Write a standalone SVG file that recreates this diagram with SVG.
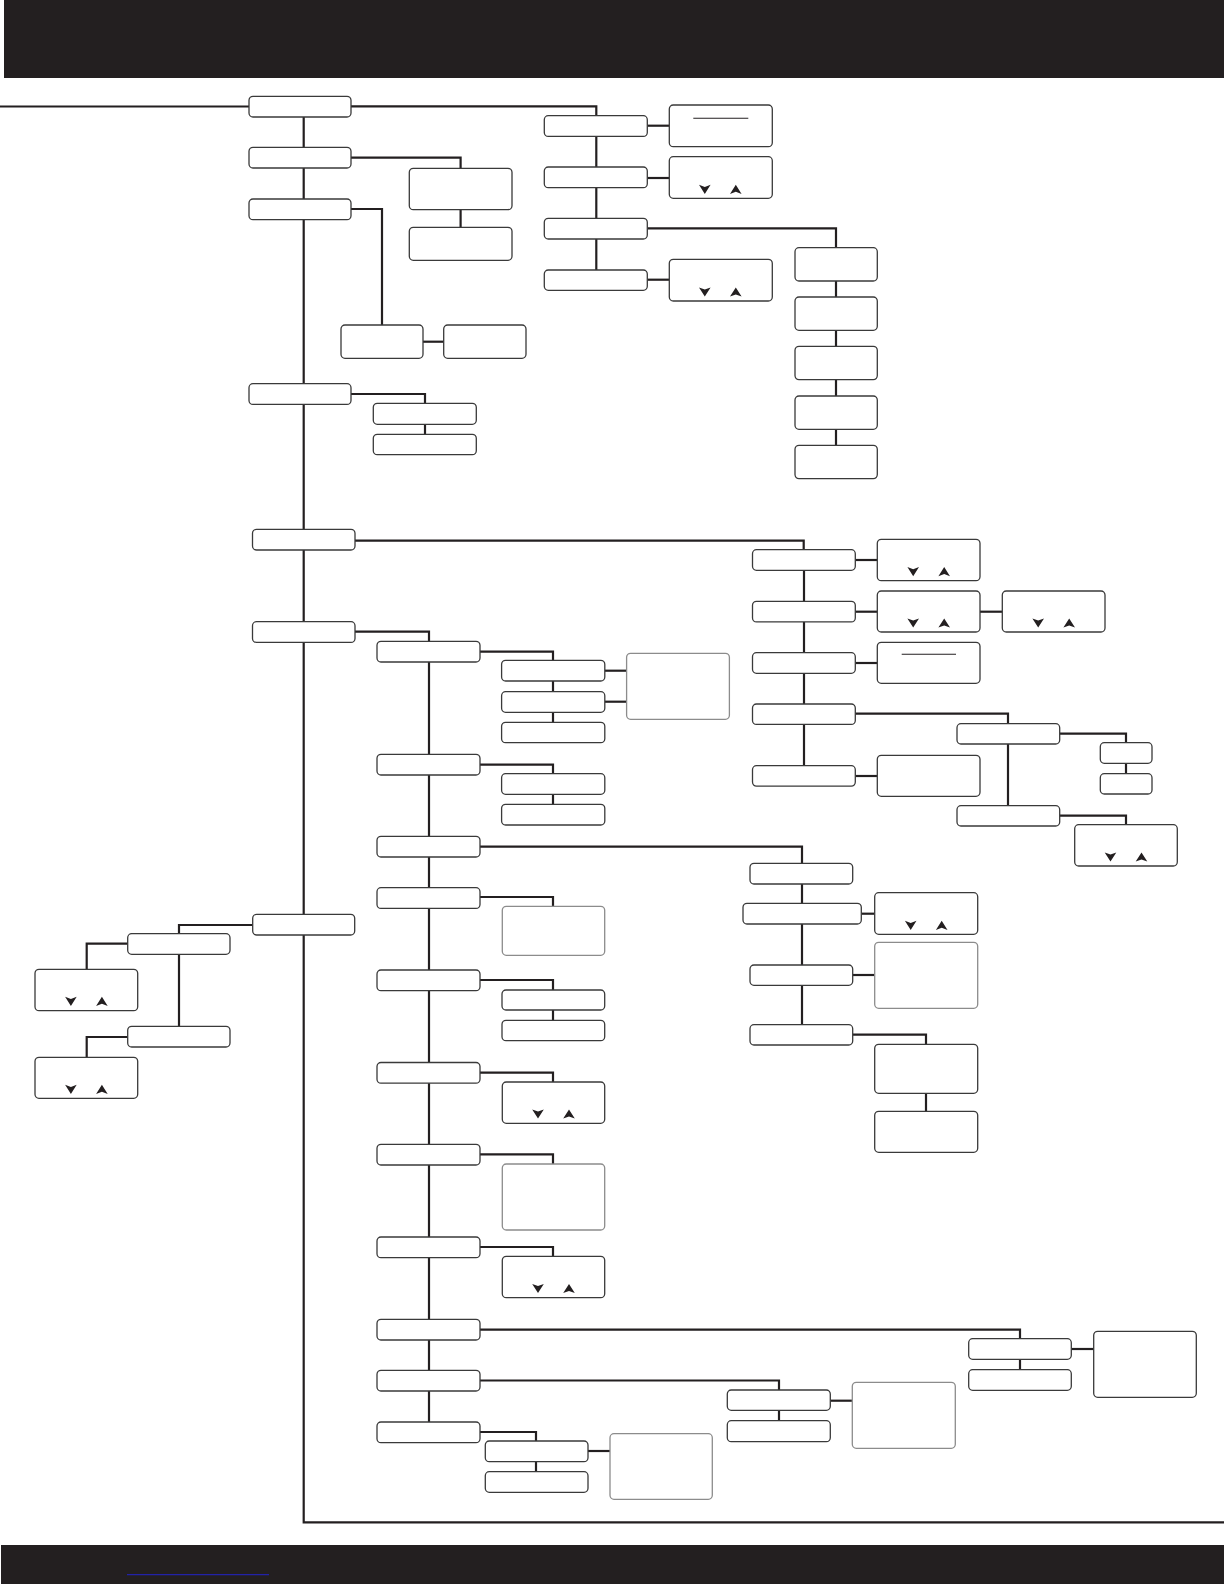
<svg xmlns="http://www.w3.org/2000/svg" xmlns:xlink="http://www.w3.org/1999/xlink" width="1224" height="1584" viewBox="0 0 1224 1584">
<style>
.bar{fill:#231f20}
.n{fill:#fff;stroke:#3a3a3a;stroke-width:1.3}
.nl{fill:#fff;stroke:#8c8c8c;stroke-width:1.3}
.c{fill:none;stroke:#231f20;stroke-width:2.2}
.il{stroke:#231f20;stroke-width:1.1}
.ar{fill:#231f20}
</style>
<defs>
<g id="ud">
<path class="ar" d="M-21.3,-4.6 L-15.5,-2.4 L-9.7,-4.6 L-15.5,4.6 Z"/>
<path class="ar" d="M9.7,4.6 L15.5,2.4 L21.3,4.6 L15.5,-4.6 Z"/>
</g>
</defs>
<rect class="bar" x="4" y="0" width="1220" height="78"/>
<rect class="bar" x="1" y="1545" width="1223" height="39"/>
<line x1="127" y1="1574.7" x2="269" y2="1574.7" stroke="#2222a8" stroke-width="1.2"/>
<g id="connectors">
<path class="c" d="M0 106.5 H249"/>
<path class="c" d="M351 106.3 H596.3 V115.7"/>
<path class="c" d="M303.7 117 V1522.3 H1224"/>
<path class="c" d="M351 157.7 H460.6 V168.3"/>
<path class="c" d="M460.6 209.7 V227.3"/>
<path class="c" d="M351 209 H382 V325"/>
<path class="c" d="M423 341.7 H443.7"/>
<path class="c" d="M351 394 H425 V403.3"/>
<path class="c" d="M425 424.3 V434.3"/>
<path class="c" d="M596.3 136 V270"/>
<path class="c" d="M647.3 125.7 H669.3"/>
<path class="c" d="M647.3 178 H669.3"/>
<path class="c" d="M647.3 228.3 H836 V247.7"/>
<path class="c" d="M647.3 279.7 H669.3"/>
<path class="c" d="M836 281 V445.3"/>
<path class="c" d="M355 540.7 H803.7 V549.7"/>
<path class="c" d="M804 570 V765.7"/>
<path class="c" d="M855.3 560 H877.3"/>
<path class="c" d="M855.3 611.7 H877.3"/>
<path class="c" d="M980 611.7 H1002.3"/>
<path class="c" d="M855.3 663 H877.3"/>
<path class="c" d="M855.3 713.7 H1008 V723.7"/>
<path class="c" d="M1008 744 V805.7"/>
<path class="c" d="M1059.7 733.7 H1126 V742.7"/>
<path class="c" d="M1126 763.3 V773.7"/>
<path class="c" d="M1059.7 815.7 H1126 V824.7"/>
<path class="c" d="M855.3 776 H877.3"/>
<path class="c" d="M355 631.7 H429 V641.3"/>
<path class="c" d="M429 662 V1422"/>
<path class="c" d="M480 651.7 H553 V660.3"/>
<path class="c" d="M553 681 V722.3"/>
<path class="c" d="M604.8 670.7 H626.6"/>
<path class="c" d="M604.8 701.7 H626.6"/>
<path class="c" d="M480 764.7 H553 V773.7"/>
<path class="c" d="M553 794.3 V804.3"/>
<path class="c" d="M480 846.7 H802 V863.3"/>
<path class="c" d="M802 884 V1024.7"/>
<path class="c" d="M861.3 913.7 H874.7"/>
<path class="c" d="M852.7 975 H874.7"/>
<path class="c" d="M852.7 1034.7 H926 V1044.3"/>
<path class="c" d="M926 1093.3 V1111.3"/>
<path class="c" d="M480 897 H553 V906.3"/>
<path class="c" d="M480 980 H553 V990"/>
<path class="c" d="M553 1010 V1020.3"/>
<path class="c" d="M480 1072.7 H553 V1082"/>
<path class="c" d="M480 1154.3 H553 V1164"/>
<path class="c" d="M480 1247 H553 V1256.3"/>
<path class="c" d="M480 1329.7 H1020 V1338.7"/>
<path class="c" d="M1020 1359.3 V1369.7"/>
<path class="c" d="M1071.3 1349 H1093.7"/>
<path class="c" d="M480 1380.5 H779 V1390"/>
<path class="c" d="M779 1410.3 V1420.7"/>
<path class="c" d="M830.3 1400.7 H852.3"/>
<path class="c" d="M480 1432 H536 V1441"/>
<path class="c" d="M536 1461.7 V1471.7"/>
<path class="c" d="M588 1451 H610"/>
<path class="c" d="M252.7 925 H179 V933.7"/>
<path class="c" d="M179 954.3 V1026.3"/>
<path class="c" d="M127.7 943.7 H86.7 V969.3"/>
<path class="c" d="M127.7 1037 H86.7 V1057.3"/>
</g>
<g id="root"><rect class="n" x="249" y="96.3" width="102" height="20.7" rx="4"/></g>
<g id="r2"><rect class="n" x="249" y="147.3" width="102" height="20.7" rx="4"/></g>
<g id="r3"><rect class="n" x="249" y="199" width="102" height="20.7" rx="4"/></g>
<g id="r4"><rect class="n" x="249" y="383.7" width="102" height="20.7" rx="4"/></g>
<g id="r5"><rect class="n" x="252.5" y="529.3" width="102.5" height="20.7" rx="4"/></g>
<g id="r6"><rect class="n" x="252.5" y="621.7" width="102.5" height="20.7" rx="4"/></g>
<g id="r7"><rect class="n" x="252.7" y="914.3" width="102" height="20.7" rx="4"/></g>
<g id="a"><rect class="n" x="409.3" y="168.3" width="102.7" height="41.4" rx="4"/></g>
<g id="b"><rect class="n" x="409.3" y="227.3" width="102.7" height="33" rx="4"/></g>
<g id="c"><rect class="n" x="341" y="325" width="82" height="33.3" rx="4"/></g>
<g id="d"><rect class="n" x="443.7" y="325" width="82.3" height="33.3" rx="4"/></g>
<g id="e"><rect class="n" x="373.3" y="403.3" width="103" height="21" rx="4"/></g>
<g id="f"><rect class="n" x="373.3" y="434.3" width="103" height="20.4" rx="4"/></g>
<g id="g1"><rect class="n" x="544.3" y="115.7" width="103" height="20.7" rx="4"/></g>
<g id="g2"><rect class="n" x="544.3" y="167" width="103" height="20.7" rx="4"/></g>
<g id="g3"><rect class="n" x="544.3" y="218.3" width="103" height="20.7" rx="4"/></g>
<g id="g4"><rect class="n" x="544.3" y="270" width="103" height="20.3" rx="4"/></g>
<g id="h1"><rect class="n" x="669.3" y="105" width="103" height="41.7" rx="4"/><line class="il" x1="693.3" y1="118.3" x2="748.3" y2="118.3"/></g>
<g id="h2"><rect class="n" x="669.3" y="156.7" width="103" height="41.6" rx="4"/><use xlink:href="#ud" x="720.3" y="189.3"/></g>
<g id="h3"><rect class="n" x="669.3" y="259.3" width="103" height="41.7" rx="4"/><use xlink:href="#ud" x="720.3" y="292"/></g>
<g id="i1"><rect class="n" x="795" y="247.7" width="82.3" height="33.3" rx="4"/></g>
<g id="i2"><rect class="n" x="795" y="297" width="82.3" height="33.3" rx="4"/></g>
<g id="i3"><rect class="n" x="795" y="346.3" width="82.3" height="33.3" rx="4"/></g>
<g id="i4"><rect class="n" x="795" y="396" width="82.3" height="33.3" rx="4"/></g>
<g id="i5"><rect class="n" x="795" y="445.3" width="82.3" height="33.3" rx="4"/></g>
<g id="j1"><rect class="n" x="752.5" y="549.7" width="102.8" height="20.6" rx="4"/></g>
<g id="j2"><rect class="n" x="752.5" y="601.3" width="102.8" height="20.6" rx="4"/></g>
<g id="j3"><rect class="n" x="752.5" y="652.7" width="102.8" height="20.6" rx="4"/></g>
<g id="j4"><rect class="n" x="752.5" y="704" width="102.8" height="20.4" rx="4"/></g>
<g id="j5"><rect class="n" x="752.5" y="765.7" width="102.8" height="20.4" rx="4"/></g>
<g id="n1"><rect class="n" x="877.3" y="539.3" width="102.7" height="41.4" rx="4"/><use xlink:href="#ud" x="928.7" y="571.7"/></g>
<g id="n2"><rect class="n" x="877.3" y="591" width="102.7" height="41" rx="4"/><use xlink:href="#ud" x="928.7" y="623"/></g>
<g id="o"><rect class="n" x="1002.3" y="591" width="102.7" height="41" rx="4"/><use xlink:href="#ud" x="1053.7" y="623"/></g>
<g id="n3"><rect class="n" x="877.3" y="642.3" width="102.7" height="41" rx="4"/><line class="il" x1="901.7" y1="654.3" x2="956" y2="654.3"/></g>
<g id="n4"><rect class="n" x="877.3" y="755.3" width="102.7" height="41" rx="4"/></g>
<g id="p1"><rect class="n" x="957" y="723.7" width="102.7" height="20.3" rx="4"/></g>
<g id="p2"><rect class="n" x="957" y="805.7" width="102.7" height="20.3" rx="4"/></g>
<g id="q1"><rect class="n" x="1100.3" y="742.7" width="51.7" height="20.6" rx="4"/></g>
<g id="q2"><rect class="n" x="1100.3" y="773.7" width="51.7" height="20.3" rx="4"/></g>
<g id="r"><rect class="n" x="1074.7" y="824.7" width="102.6" height="41.3" rx="4"/><use xlink:href="#ud" x="1126" y="857"/></g>
<g id="k1"><rect class="n" x="377" y="641.3" width="103" height="20.7" rx="4"/></g>
<g id="k2"><rect class="n" x="377" y="754.3" width="103" height="20.7" rx="4"/></g>
<g id="k3"><rect class="n" x="377" y="836.3" width="103" height="20.7" rx="4"/></g>
<g id="k4"><rect class="n" x="377" y="887.7" width="103" height="20.7" rx="4"/></g>
<g id="k5"><rect class="n" x="377" y="970" width="103" height="20.7" rx="4"/></g>
<g id="k6"><rect class="n" x="377" y="1062.5" width="103" height="20.7" rx="4"/></g>
<g id="k7"><rect class="n" x="377" y="1144.3" width="103" height="20.7" rx="4"/></g>
<g id="k8"><rect class="n" x="377" y="1237" width="103" height="20.7" rx="4"/></g>
<g id="k9"><rect class="n" x="377" y="1319.3" width="103" height="20.7" rx="4"/></g>
<g id="k10"><rect class="n" x="377" y="1370.3" width="103" height="20.7" rx="4"/></g>
<g id="k11"><rect class="n" x="377" y="1422" width="103" height="20.7" rx="4"/></g>
<g id="l1"><rect class="n" x="501.6" y="660.3" width="103.2" height="20.7" rx="4"/></g>
<g id="l2"><rect class="n" x="501.6" y="691.7" width="103.2" height="20.6" rx="4"/></g>
<g id="l3"><rect class="n" x="501.6" y="722.3" width="103.2" height="20.4" rx="4"/></g>
<g id="m"><rect class="nl" x="626.6" y="653.3" width="102.8" height="66" rx="4"/></g>
<g id="l4"><rect class="n" x="501.6" y="773.7" width="103.2" height="20.6" rx="4"/></g>
<g id="l5"><rect class="n" x="501.6" y="804.3" width="103.2" height="20.7" rx="4"/></g>
<g id="s1"><rect class="n" x="750" y="863.3" width="102.7" height="20.7" rx="4"/></g>
<g id="s2"><rect class="n" x="743" y="903.3" width="118.3" height="20.7" rx="4"/></g>
<g id="s3"><rect class="n" x="750" y="965" width="102.7" height="20.3" rx="4"/></g>
<g id="s4"><rect class="n" x="750" y="1024.7" width="102.7" height="20.3" rx="4"/></g>
<g id="w1"><rect class="n" x="874.7" y="892.7" width="103" height="41.6" rx="4"/><use xlink:href="#ud" x="926.2" y="925.3"/></g>
<g id="w2"><rect class="nl" x="874.7" y="942.3" width="103" height="66" rx="4"/></g>
<g id="w3"><rect class="n" x="874.7" y="1044.3" width="103" height="49" rx="4"/></g>
<g id="w4"><rect class="n" x="874.7" y="1111.3" width="103" height="41" rx="4"/></g>
<g id="v1"><rect class="nl" x="502.3" y="906.3" width="102.4" height="49" rx="4"/></g>
<g id="l6"><rect class="n" x="502" y="990" width="102.7" height="20" rx="4"/></g>
<g id="l7"><rect class="n" x="502" y="1020.3" width="102.7" height="20.4" rx="4"/></g>
<g id="v2"><rect class="n" x="502.3" y="1082" width="102.4" height="41.3" rx="4"/><use xlink:href="#ud" x="553.5" y="1114"/></g>
<g id="v3"><rect class="nl" x="502.3" y="1164" width="102.4" height="66" rx="4"/></g>
<g id="v4"><rect class="n" x="502.3" y="1256.3" width="102.4" height="41.4" rx="4"/><use xlink:href="#ud" x="553.5" y="1288.5"/></g>
<g id="aa1"><rect class="n" x="968.7" y="1338.7" width="102.6" height="20.6" rx="4"/></g>
<g id="aa2"><rect class="n" x="968.7" y="1369.7" width="102.6" height="20.6" rx="4"/></g>
<g id="ab"><rect class="n" x="1093.7" y="1331.3" width="102.6" height="66" rx="4"/></g>
<g id="x1"><rect class="n" x="727.3" y="1390" width="103" height="20.3" rx="4"/></g>
<g id="x2"><rect class="n" x="727.3" y="1420.7" width="103" height="21" rx="4"/></g>
<g id="ac"><rect class="nl" x="852.3" y="1382.3" width="103" height="66" rx="4"/></g>
<g id="y1"><rect class="n" x="485.3" y="1441" width="102.7" height="20.7" rx="4"/></g>
<g id="y2"><rect class="n" x="485.3" y="1471.7" width="102.7" height="20.6" rx="4"/></g>
<g id="z"><rect class="nl" x="610" y="1433.7" width="102.3" height="65.6" rx="4"/></g>
<g id="t1"><rect class="n" x="127.7" y="933.7" width="102.3" height="20.6" rx="4"/></g>
<g id="t2"><rect class="n" x="127.7" y="1026.3" width="102.3" height="20.7" rx="4"/></g>
<g id="u1"><rect class="n" x="35" y="969.3" width="102.7" height="41.4" rx="4"/><use xlink:href="#ud" x="86.4" y="1001.3"/></g>
<g id="u2"><rect class="n" x="35" y="1057.3" width="102.7" height="41" rx="4"/><use xlink:href="#ud" x="86.4" y="1089.3"/></g>
</svg>
